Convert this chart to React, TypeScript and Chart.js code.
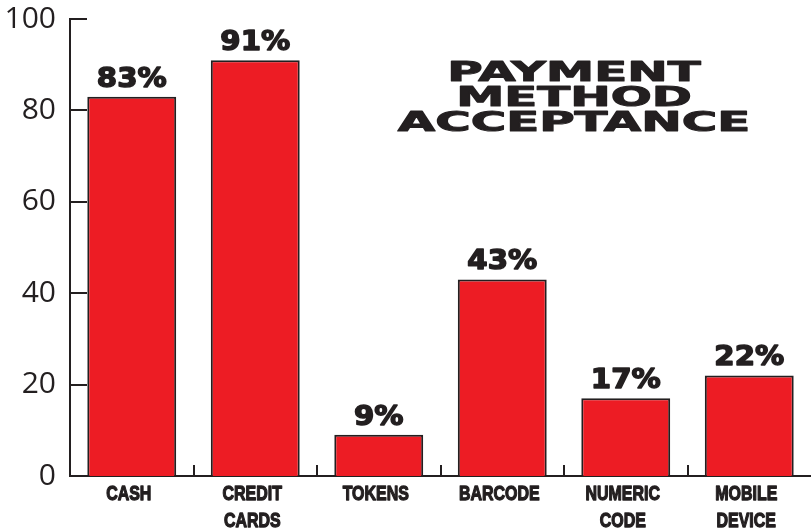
import React, { useEffect, useRef } from "react";
import { Chart, registerables } from "chart.js";

Chart.register(...registerables);

// Share of venues accepting each payment method (%)
const categories: string[][] = [
  ["CASH"],
  ["CREDIT", "CARDS"],
  ["TOKENS"],
  ["BARCODE"],
  ["NUMERIC", "CODE"],
  ["MOBILE", "DEVICE"],
];
const acceptance: number[] = [83, 91, 9, 43, 17, 22];
const yTicks: number[] = [0, 20, 40, 60, 80, 100];
const titleLines: string[] = ["PAYMENT", "METHOD", "ACCEPTANCE"];

const INK = "#231f20";
const RED = "#ed1c24";

// heavy text: fill plus a thin stroke of the same colour, optionally stretched
function heavyText(ctx: any, text: string, x: number, y: number, sx: number, stroke: number) {
  ctx.save();
  ctx.translate(x, y);
  ctx.scale(sx, 1);
  ctx.lineWidth = stroke / sx;
  ctx.lineJoin = "round";
  ctx.fillText(text, 0, 0);
  if (stroke > 0) ctx.strokeText(text, 0, 0);
  ctx.restore();
}

const decorations = {
  id: "decorations",
  afterDatasetsDraw(chart: any) {
    const { ctx, chartArea } = chart;
    const x = chart.scales.x;
    const y = chart.scales.y;
    ctx.save();
    ctx.strokeStyle = INK;
    ctx.fillStyle = INK;
    ctx.lineWidth = 2;

    // inward ticks on the value axis
    yTicks.forEach((v) => {
      if (v === 0) return;
      const py = Math.round(y.getPixelForValue(v));
      ctx.beginPath();
      ctx.moveTo(chartArea.left, py);
      ctx.lineTo(chartArea.left + 17, py);
      ctx.stroke();
    });

    // upward ticks between categories
    for (let i = 0; i < categories.length - 1; i++) {
      const px = Math.round((x.getPixelForValue(i) + x.getPixelForValue(i + 1)) / 2);
      ctx.beginPath();
      ctx.moveTo(px, chartArea.bottom);
      ctx.lineTo(px, chartArea.bottom - 11);
      ctx.stroke();
    }

    // condensed category labels
    ctx.textAlign = "center";
    ctx.textBaseline = "alphabetic";
    ctx.font = "bold 21px 'Liberation Sans'";
    categories.forEach((lines, i) => {
      const px = x.getPixelForValue(i);
      lines.forEach((line, j) => {
        heavyText(ctx, line, px - 3, chartArea.bottom + 24 + j * 27, 0.76, 1.0);
      });
    });

    // value labels above bars
    const meta = chart.getDatasetMeta(0);
    ctx.font = "bold 27px 'DejaVu Sans'";
    meta.data.forEach((bar: any, i: number) => {
      heavyText(ctx, acceptance[i] + "%", bar.x, bar.y - 10, 1.08, 1.6);
    });

    // extended heavy title
    ctx.font = "bold 27px 'DejaVu Sans'";
    const baselines = [81, 106, 131];
    titleLines.forEach((line, i) => {
      heavyText(ctx, line, 574, baselines[i], 1.79, 1.8);
    });
    ctx.restore();
  },
};

export default function App() {
  const ref = useRef<HTMLCanvasElement>(null);

  useEffect(() => {
    if (!ref.current) return;
    const chart = new Chart(ref.current, {
      type: "bar",
      data: {
        labels: categories,
        datasets: [
          {
            data: acceptance,
            backgroundColor: RED,
            borderColor: INK,
            borderWidth: 2,
            barPercentage: 0.72,
            categoryPercentage: 1,
          },
        ],
      },
      options: {
        responsive: false,
        animation: false,
        layout: { padding: { top: 19, left: 0, right: 0, bottom: 0 } },
        plugins: {
          legend: { display: false },
          tooltip: { enabled: false },
          title: { display: false },
        },
        scales: {
          x: {
            grid: { display: false, drawTicks: false },
            border: { display: true, color: INK, width: 2 },
            ticks: { display: false },
            afterFit(scale: any) {
              scale.height = 53;
            },
          },
          y: {
            min: 0,
            max: 100,
            afterBuildTicks(scale: any) {
              scale.ticks = yTicks.map((v) => ({ value: v }));
            },
            grid: { display: false, drawTicks: false },
            border: { display: true, color: INK, width: 2 },
            ticks: {
              color: INK,
              padding: 14,
              font: { family: "'Open Sans'", size: 30, weight: "normal" },
            },
            afterFit(scale: any) {
              scale.width = 70;
              scale.paddingTop = 0;
              scale.paddingBottom = 0;
            },
          },
        },
      },
      plugins: [decorations],
    });
    return () => chart.destroy();
  }, []);

  return (
    <div style={{ position: "fixed", left: 0, top: 0, width: 811, height: 529, background: "#fff" }}>
      <canvas ref={ref} width={811} height={529} style={{ display: "block" }} />
    </div>
  );
}
